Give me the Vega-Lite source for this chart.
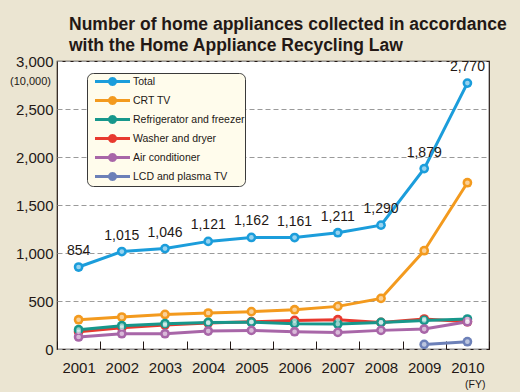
{
  "$schema": "https://vega.github.io/schema/vega-lite/v6.json",
  "width": 432,
  "height": 288,
  "autosize": {"type": "none"},
  "padding": {"left": 57, "top": 61, "right": 31, "bottom": 43},
  "background": "#ebe5d2",
  "title": {
    "text": ["Number of home appliances collected in accordance", "with the Home Appliance Recycling Law"],
    "anchor": "start",
    "frame": "group",
    "dx": 12,
    "dy": 28,
    "offset": 10,
    "baseline": "bottom",
    "lineHeight": 21,
    "font": "Liberation Sans",
    "fontSize": 17.5,
    "fontWeight": "bold",
    "color": "#231815"
  },
  "config": {
    "view": {"stroke": "#231815", "strokeWidth": 1.2, "fill": "white"},
    "font": "Liberation Sans",
    "axis": {"labelFont": "Liberation Sans", "labelColor": "#231815", "titleColor": "#231815", "titleFont": "Liberation Sans"}
  },
  "data": {
    "values": [
      {"year": "2001", "series": "Total", "value": 854},
      {"year": "2002", "series": "Total", "value": 1015},
      {"year": "2003", "series": "Total", "value": 1046},
      {"year": "2004", "series": "Total", "value": 1121},
      {"year": "2005", "series": "Total", "value": 1162},
      {"year": "2006", "series": "Total", "value": 1161},
      {"year": "2007", "series": "Total", "value": 1211},
      {"year": "2008", "series": "Total", "value": 1290},
      {"year": "2009", "series": "Total", "value": 1879},
      {"year": "2010", "series": "Total", "value": 2770},
      {"year": "2001", "series": "CRT TV", "value": 305},
      {"year": "2002", "series": "CRT TV", "value": 333},
      {"year": "2003", "series": "CRT TV", "value": 360},
      {"year": "2004", "series": "CRT TV", "value": 375},
      {"year": "2005", "series": "CRT TV", "value": 389},
      {"year": "2006", "series": "CRT TV", "value": 409},
      {"year": "2007", "series": "CRT TV", "value": 444},
      {"year": "2008", "series": "CRT TV", "value": 527},
      {"year": "2009", "series": "CRT TV", "value": 1024},
      {"year": "2010", "series": "CRT TV", "value": 1732},
      {"year": "2001", "series": "Washer and dryer", "value": 180},
      {"year": "2002", "series": "Washer and dryer", "value": 222},
      {"year": "2003", "series": "Washer and dryer", "value": 250},
      {"year": "2004", "series": "Washer and dryer", "value": 271},
      {"year": "2005", "series": "Washer and dryer", "value": 284},
      {"year": "2006", "series": "Washer and dryer", "value": 298},
      {"year": "2007", "series": "Washer and dryer", "value": 305},
      {"year": "2008", "series": "Washer and dryer", "value": 277},
      {"year": "2009", "series": "Washer and dryer", "value": 312},
      {"year": "2010", "series": "Washer and dryer", "value": 284},
      {"year": "2001", "series": "Refrigerator and freezer", "value": 201},
      {"year": "2002", "series": "Refrigerator and freezer", "value": 243},
      {"year": "2003", "series": "Refrigerator and freezer", "value": 264},
      {"year": "2004", "series": "Refrigerator and freezer", "value": 277},
      {"year": "2005", "series": "Refrigerator and freezer", "value": 279},
      {"year": "2006", "series": "Refrigerator and freezer", "value": 264},
      {"year": "2007", "series": "Refrigerator and freezer", "value": 260},
      {"year": "2008", "series": "Refrigerator and freezer", "value": 277},
      {"year": "2009", "series": "Refrigerator and freezer", "value": 298},
      {"year": "2010", "series": "Refrigerator and freezer", "value": 312},
      {"year": "2001", "series": "Air conditioner", "value": 125},
      {"year": "2002", "series": "Air conditioner", "value": 159},
      {"year": "2003", "series": "Air conditioner", "value": 159},
      {"year": "2004", "series": "Air conditioner", "value": 187},
      {"year": "2005", "series": "Air conditioner", "value": 194},
      {"year": "2006", "series": "Air conditioner", "value": 180},
      {"year": "2007", "series": "Air conditioner", "value": 173},
      {"year": "2008", "series": "Air conditioner", "value": 194},
      {"year": "2009", "series": "Air conditioner", "value": 208},
      {"year": "2010", "series": "Air conditioner", "value": 284},
      {"year": "2009", "series": "LCD and plasma TV", "value": 48},
      {"year": "2010", "series": "LCD and plasma TV", "value": 76}
    ]
  },
  "encoding": {
    "x": {
      "field": "year",
      "type": "ordinal",
      "scale": {"paddingInner": 0, "paddingOuter": 0},
      "axis": {
        "labelAngle": 0,
        "labelFontSize": 15,
        "labelPadding": 19,
        "tickBand": "extent",
        "tickSize": -8,
        "tickColor": "#231815",
        "domain": false,
        "title": "(FY)",
        "titleFontSize": 10.5,
        "titleFontWeight": "normal",
        "titleAnchor": "end",
        "titleAlign": "right",
        "titleX": 428,
        "titleY": 40,
        "titleBaseline": "bottom"
      }
    },
    "y": {
      "field": "value",
      "type": "quantitative",
      "scale": {"domain": [0, 3000], "nice": false},
      "axis": {
        "values": [0, 500, 1000, 1500, 2000, 2500, 3000],
        "format": ",.0f",
        "labelFontSize": 15,
        "labelPadding": 4,
        "ticks": false,
        "domain": false,
        "gridDash": [5, 3],
        "gridColor": "#9a9a9a",
        "gridWidth": 1,
        "title": "(10,000)",
        "titleAngle": 0,
        "titleFontSize": 11,
        "titleFontWeight": "normal",
        "titleAlign": "center",
        "titleBaseline": "middle",
        "titleX": -27,
        "titleY": 20
      }
    },
    "color": {
      "field": "series",
      "type": "nominal",
      "scale": {
        "domain": ["Total", "CRT TV", "Refrigerator and freezer", "Washer and dryer", "Air conditioner", "LCD and plasma TV"],
        "range": ["#1b9ddb", "#f39a1e", "#17978b", "#e8392e", "#a866a8", "#6c80b8"]
      },
      "legend": {
        "orient": "none",
        "legendX": 30,
        "legendY": 12,
        "title": null,
        "fillColor": "#fffcec",
        "strokeColor": "#3a3a3a",
        "cornerRadius": 6,
        "padding": 0,
        "symbolType": "M-2.5,0H2.5M0.43,0L0.372,0.215L0.215,0.372L0,0.43L-0.215,0.372L-0.372,0.215L-0.43,0L-0.372,-0.215L-0.215,-0.372L0,-0.43L0.215,-0.372L0.372,-0.215Z",
        "symbolSize": 196,
        "symbolStrokeWidth": 3,
        "symbolOffset": 17,
        "labelOffset": 12,
        "labelFont": "Liberation Sans",
        "labelFontSize": 10.5,
        "labelColor": "#231815",
        "rowPadding": 0,
        "labelLimit": 200,
        "encode": {"symbols": {"update": {"fill": {"scale": "color", "field": "value"}, "fillOpacity": {"value": 1}}}}
      }
    }
  },
  "layer": [
    {
      "mark": {"type": "line", "strokeWidth": 3}
    },
    {
      "mark": {"type": "point", "filled": true, "size": 95, "opacity": 1}
    },
    {
      "mark": {"type": "point", "filled": true, "size": 22, "color": "white", "opacity": 0.55},
      "encoding": {"color": {"value": "white"}}
    },
    {
      "transform": [{"filter": "datum.series == 'Total'"}],
      "mark": {"type": "text", "dy": -16, "fontSize": 14, "font": "Liberation Sans", "color": "#231815"},
      "encoding": {"text": {"field": "value", "type": "quantitative", "format": ","}, "color": {"value": "#231815"}}
    }
  ]
}
